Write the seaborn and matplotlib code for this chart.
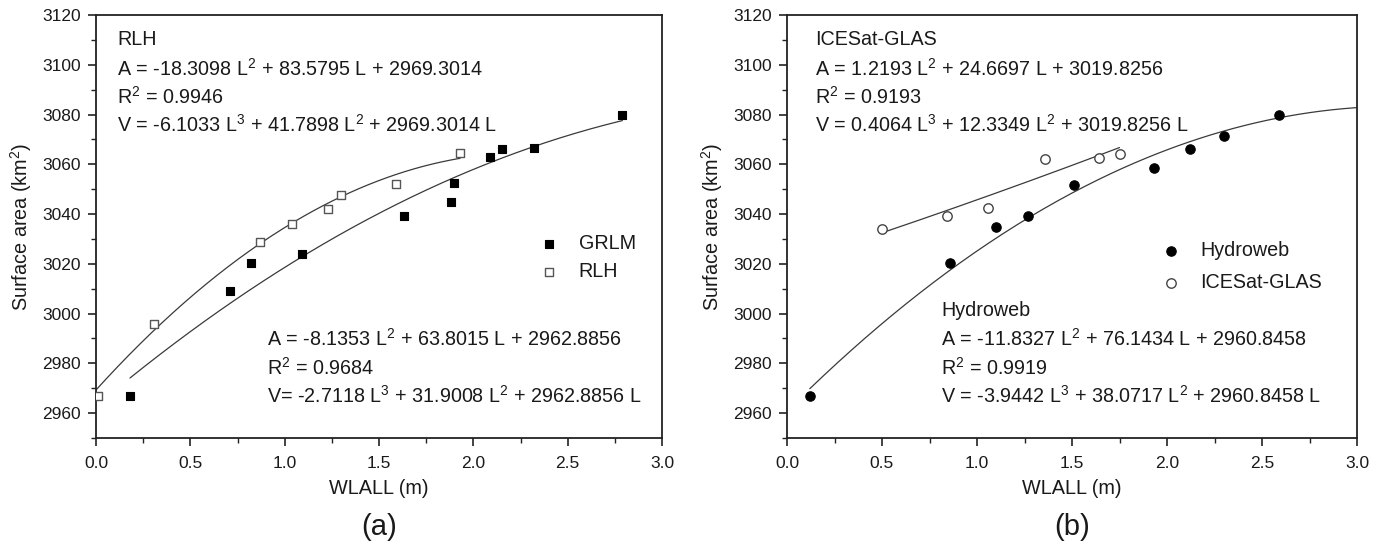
import numpy as np
import pandas as pd
import matplotlib
matplotlib.use("Agg")
import matplotlib.pyplot as plt
import seaborn as sns

# ---------------- data ----------------
grlm_x = [0.18, 0.71, 0.82, 1.09, 1.63, 1.88, 1.90, 2.09, 2.15, 2.32, 2.79]
grlm_y = [2967, 3009, 3020.4, 3023.8, 3039.3, 3044.9, 3052.5, 3063, 3066, 3066.5, 3080]
rlh_x = [0.01, 0.31, 0.87, 1.04, 1.23, 1.30, 1.59, 1.93]
rlh_y = [2967, 2996, 3028.8, 3036, 3042, 3047.6, 3052, 3064.6]

hydro_x = [0.12, 0.86, 1.10, 1.27, 1.51, 1.93, 2.12, 2.30, 2.59]
hydro_y = [2967, 3020.4, 3034.9, 3039.2, 3051.5, 3058.4, 3066.3, 3071.3, 3080]
ice_x = [0.50, 0.84, 1.06, 1.36, 1.64, 1.75]
ice_y = [3033.8, 3039.3, 3042.4, 3062, 3062.7, 3064.3]

# quadratic fit coefficients (a2, a1, a0) and fitted ranges
rlh_coef = [-18.3098, 83.5795, 2969.3014]
rlh_range = [0.0, 1.93]
grlm_coef = [-8.1353, 63.8015, 2962.8856]
grlm_range = [0.18, 2.79]
ice_coef = [1.2193, 24.6697, 3019.8256]
ice_range = [0.50, 1.75]
hydro_coef = [-11.8327, 76.1434, 2960.8458]
hydro_range = [0.12, 3.0]

left_top_text = ["RLH",
                 "A = -18.3098 L$^{2}$ + 83.5795 L + 2969.3014",
                 "R$^{2}$ = 0.9946",
                 "V = -6.1033 L$^{3}$ + 41.7898 L$^{2}$ + 2969.3014 L"]
left_bot_text = ["A = -8.1353 L$^{2}$ + 63.8015 L + 2962.8856",
                 "R$^{2}$ = 0.9684",
                 "V= -2.7118 L$^{3}$ + 31.9008 L$^{2}$ + 2962.8856 L"]
right_top_text = ["ICESat-GLAS",
                  "A = 1.2193 L$^{2}$ + 24.6697 L + 3019.8256",
                  "R$^{2}$ = 0.9193",
                  "V = 0.4064 L$^{3}$ + 12.3349 L$^{2}$ + 3019.8256 L"]
right_bot_text = ["Hydroweb",
                  "A = -11.8327 L$^{2}$ + 76.1434 L + 2960.8458",
                  "R$^{2}$ = 0.9919",
                  "V = -3.9442 L$^{3}$ + 38.0717 L$^{2}$ + 2960.8458 L"]

x_ticks = [0.0, 0.5, 1.0, 1.5, 2.0, 2.5, 3.0]
y_ticks = [2960, 2980, 3000, 3020, 3040, 3060, 3080, 3100, 3120]

# ---------------- style ----------------
sns.set_style("ticks")
plt.rcParams['font.family'] = ['Liberation Sans', 'DejaVu Sans']
plt.rcParams['mathtext.default'] = 'regular'
TXT = '#1a1a1a'
LINE = '#3a3a3a'
FS = 14.2

fig = plt.figure(figsize=(13.84, 5.47), dpi=100)
axL = fig.add_axes([96/1384, 109/547, 566/1384, 423/547])
axR = fig.add_axes([787/1384, 109/547, 570/1384, 423/547])


def fit_curve(ax, coef, rng):
    xs = np.linspace(rng[0], rng[1], 200)
    ys = np.polyval(coef, xs)
    sns.lineplot(x=xs, y=ys, ax=ax, color=LINE, linewidth=0.9, sort=False,
                 estimator=None, legend=False)


def style_axes(ax):
    ax.set_xlim(0, 3.0)
    ax.set_ylim(2950, 3120)
    ax.set_xticks(x_ticks)
    ax.set_xticklabels([f"{v:.1f}" for v in x_ticks])
    ax.set_yticks(y_ticks)
    ax.set_xticks(np.arange(0, 3.01, 0.25), minor=True)
    ax.set_yticks(np.arange(2950, 3121, 10), minor=True)
    for s in ax.spines.values():
        s.set_visible(True)
        s.set_linewidth(1.3)
        s.set_color('#222222')
    ax.tick_params(which='major', direction='out', length=6, width=1.2,
                   labelsize=12.5, colors='#222222', labelcolor=TXT, pad=7)
    ax.tick_params(axis='y', which='major', pad=5)
    ax.tick_params(which='minor', direction='out', length=3.5, width=1.0,
                   colors='#222222')
    ax.set_xlabel("WLALL (m)", fontsize=14.3, color=TXT, labelpad=6)
    ax.set_ylabel("Surface area (km$^{2}$)", fontsize=14.3, color=TXT, labelpad=6)


def text_block(ax, x, ys, lines):
    for y, t in zip(ys, lines):
        ax.text(x, y, t, transform=ax.transAxes, fontsize=FS, color=TXT,
                va='center', ha='left')


# ---------------- panel (a) ----------------
fit_curve(axL, rlh_coef, rlh_range)
fit_curve(axL, grlm_coef, grlm_range)
sns.scatterplot(x=grlm_x, y=grlm_y, ax=axL, marker='s', s=40, color='black',
                edgecolor='black', linewidth=0.8, label='GRLM', zorder=3)
sns.scatterplot(x=rlh_x, y=rlh_y, ax=axL, marker='s', s=40, facecolor='white',
                edgecolor='#555555', linewidth=1.0, label='RLH', zorder=3)
style_axes(axL)
text_block(axL, 0.037, [0.941, 0.872, 0.806, 0.740], left_top_text)
text_block(axL, 0.302, [0.234, 0.166, 0.099], left_bot_text)
leg = axL.legend(loc='center left', bbox_to_anchor=(0.783, 0.426), frameon=False,
                 fontsize=FS, handlelength=1.0, handletextpad=1.0,
                 borderpad=0, borderaxespad=0, labelspacing=0.45)
for t in leg.get_texts():
    t.set_color(TXT)

# ---------------- panel (b) ----------------
fit_curve(axR, ice_coef, ice_range)
fit_curve(axR, hydro_coef, hydro_range)
sns.scatterplot(x=hydro_x, y=hydro_y, ax=axR, marker='o', s=46, color='black',
                edgecolor='black', linewidth=0.8, label='Hydroweb', zorder=3)
sns.scatterplot(x=ice_x, y=ice_y, ax=axR, marker='o', s=46, facecolor='white',
                edgecolor='#444444', linewidth=1.0, label='ICESat-GLAS', zorder=3)
style_axes(axR)
text_block(axR, 0.049, [0.941, 0.872, 0.806, 0.740], right_top_text)
text_block(axR, 0.271, [0.301, 0.234, 0.166, 0.099], right_bot_text)
leg = axR.legend(loc='center left', bbox_to_anchor=(0.656, 0.405), frameon=False,
                 fontsize=FS, handlelength=1.0, handletextpad=1.0,
                 borderpad=0, borderaxespad=0, labelspacing=0.65)
for t in leg.get_texts():
    t.set_color(TXT)

fig.text(379/1384, 1 - 527/547, "(a)", fontsize=21, color=TXT, ha='center', va='center')
fig.text(1072/1384, 1 - 527/547, "(b)", fontsize=21, color=TXT, ha='center', va='center')

fig.savefig("out.png", dpi=100, facecolor='white')
